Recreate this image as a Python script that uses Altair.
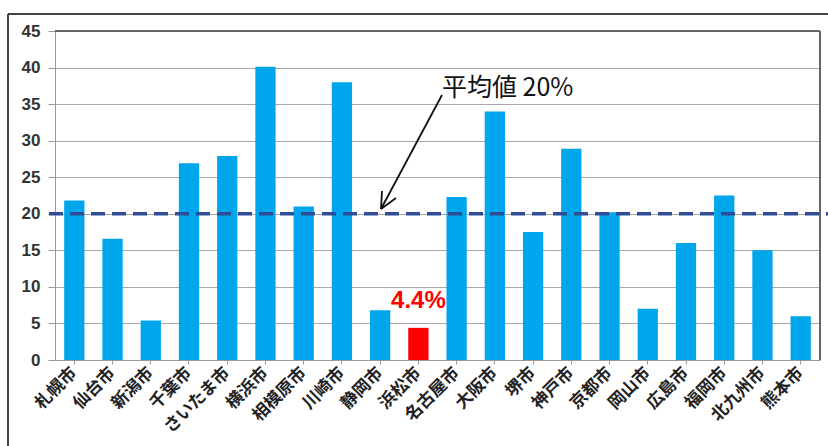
import altair as alt
import pandas as pd

cities = ["札幌市", "仙台市", "新潟市", "千葉市", "さいたま市", "横浜市", "相模原市", "川崎市",
          "静岡市", "浜松市", "名古屋市", "大阪市", "堺市", "神戸市", "京都市", "岡山市",
          "広島市", "福岡市", "北九州市", "熊本市"]
values = [21.8, 16.6, 5.4, 26.9, 27.9, 40.1, 21.0, 38.0, 6.8, 4.4, 22.3, 34.0, 17.5, 28.9,
          20.2, 7.0, 16.0, 22.5, 15.0, 6.0]
y_ticks = [0, 5, 10, 15, 20, 25, 30, 35, 40, 45]
highlight = "浜松市"
average = 20
avg_label = "平均値 20%"
hl_label = "4.4%"

df = pd.DataFrame({"city": cities, "value": values,
                   "hl": ["yes" if c == highlight else "no" for c in cities]})

W, H = 765, 329
FONT_JP = "Noto Sans CJK JP"
yscale = alt.Scale(domain=[0, 45], nice=False)
xscale = alt.Scale(paddingInner=0.47, paddingOuter=0.24)

x_axis = alt.Axis(labelAngle=-45, labelAlign="right", labelBaseline="middle",
                  labelFont=FONT_JP, labelFontSize=17, labelFontWeight="bold",
                  labelColor="#222", labelPadding=6, tickSize=4, tickColor="#999",
                  domainColor="#999", grid=False, labelOverlap=False)
y_axis = alt.Axis(values=y_ticks, labelFont="Liberation Sans",
                  labelFontSize=17, labelFontWeight="bold", labelColor="#333",
                  labelPadding=8, tickSize=7, tickColor="#999", domainColor="#999",
                  gridColor="#a8a8a8", gridWidth=1, labelOverlap=False)

bars = alt.Chart(df).mark_bar().encode(
    x=alt.X("city:N", sort=cities, title=None, scale=xscale, axis=x_axis),
    y=alt.Y("value:Q", title=None, scale=yscale, axis=y_axis),
    color=alt.Color("hl:N", scale=alt.Scale(domain=["no", "yes"], range=["#00A6EC", "#FF0000"]),
                    legend=None))

# plot border (top and right)
frame_top = alt.Chart(df).mark_rule(color="#666", strokeWidth=1.5).encode(
    x=alt.value(0), x2=alt.value(W), y=alt.value(0))
frame_right = alt.Chart(df).mark_rule(color="#666", strokeWidth=1.5).encode(
    x=alt.value(W), y=alt.value(0), y2=alt.value(H))

# outer frame
outer_top = alt.Chart(df).mark_rule(color="#444", strokeWidth=1.5).encode(
    x=alt.value(-47), x2=alt.value(W + 10), y=alt.value(-17))
outer_left = alt.Chart(df).mark_rule(color="#444", strokeWidth=1.5).encode(
    x=alt.value(-47), y=alt.value(-17), y2=alt.value(H + 90))

avg_df = pd.DataFrame({"value": [average]})
avg_line = alt.Chart(avg_df).mark_rule(color="#2E4D96", strokeWidth=3.5,
                                       strokeDash=[14, 7]).encode(
    y=alt.Y("value:Q", title=None, scale=yscale, axis=y_axis),
    x=alt.value(-6), x2=alt.value(W + 10))

avg_text = alt.Chart(avg_df).mark_text(text=avg_label, font=FONT_JP, fontSize=25,
                                       color="#111", align="left", baseline="middle").encode(
    x=alt.value(387), y=alt.value(57))

arrow_shaft = alt.Chart(avg_df).mark_rule(color="#111", strokeWidth=1.8).encode(
    x=alt.value(387), y=alt.value(64), x2=alt.value(326), y2=alt.value(178))
arrow_h1 = alt.Chart(avg_df).mark_rule(color="#111", strokeWidth=1.8).encode(
    x=alt.value(326), y=alt.value(178), x2=alt.value(341), y2=alt.value(167))
arrow_h2 = alt.Chart(avg_df).mark_rule(color="#111", strokeWidth=1.8).encode(
    x=alt.value(326), y=alt.value(178), x2=alt.value(327), y2=alt.value(160))

hl_df = df[df.city == highlight]
hl_text = alt.Chart(hl_df).mark_text(text=hl_label, font="Liberation Sans", fontSize=24,
                                     fontWeight="bold", color="#FF0000", baseline="bottom",
                                     dy=-15).encode(
    x=alt.X("city:N", sort=cities, title=None, scale=xscale, axis=x_axis),
    y=alt.Y("value:Q", title=None, scale=yscale, axis=y_axis))

chart = alt.layer(bars, frame_top, frame_right, outer_top, outer_left, avg_line,
                  arrow_shaft, arrow_h1, arrow_h2, avg_text, hl_text).properties(
    width=W, height=H,
    padding={"left": 55, "top": 31, "right": 8, "bottom": 86},
    autosize=alt.AutoSizeParams(type="none"),
    background="white",
).configure_view(stroke=None)

chart.save("out.html", embed_options={"renderer": "svg", "actions": False})
